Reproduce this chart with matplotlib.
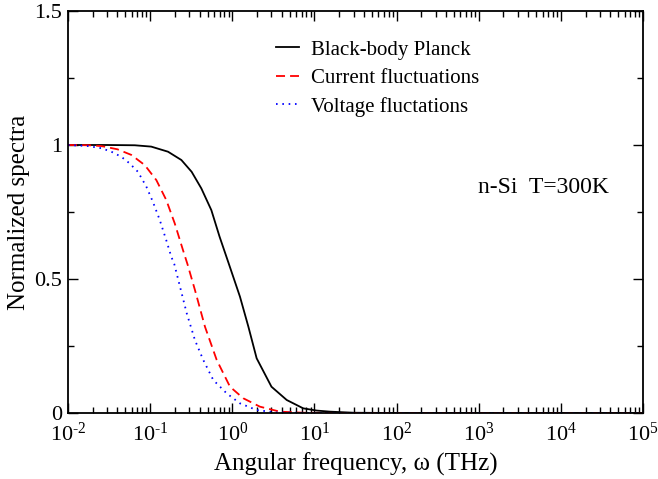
import numpy as np
import matplotlib
matplotlib.use("Agg")
import matplotlib.pyplot as plt
from matplotlib.ticker import FixedLocator, FixedFormatter, NullFormatter

plt.rcParams['font.family'] = ['Liberation Serif', 'DejaVu Serif']
plt.rcParams['mathtext.fontset'] = 'custom'
plt.rcParams['mathtext.rm'] = 'Liberation Serif'
plt.rcParams['mathtext.it'] = 'Liberation Serif:italic'

# Black-body Planck
w_bb = [0.01, 0.03, 0.065, 0.103, 0.165, 0.24, 0.32, 0.42, 0.556, 0.70, 0.90, 1.24, 1.57, 1.98,
        3.0, 4.6, 7.3, 10.7, 15.5, 30, 100, 1e3, 1e4, 1e5]
s_bb = [1.0, 1.0, 0.999, 0.994, 0.975, 0.944, 0.90, 0.838, 0.757, 0.658, 0.56, 0.434, 0.322, 0.204,
        0.098, 0.0485, 0.0174, 0.009, 0.005, 0.001, 0.0, 0.0, 0.0, 0.0]
# Current fluctuations
w_cur = [0.01, 0.018, 0.0255, 0.04, 0.059, 0.086, 0.119, 0.157, 0.199, 0.251, 0.285, 0.351, 0.465,
         0.646, 0.938, 1.36, 2.17, 3.8, 7.3, 20, 100, 1e3, 1e4, 1e5]
s_cur = [1.0, 0.999, 0.996, 0.984, 0.963, 0.925, 0.869, 0.795, 0.708, 0.608, 0.555, 0.459, 0.322,
         0.198, 0.098, 0.055, 0.0236, 0.005, 0.001, 0.0, 0.0, 0.0, 0.0, 0.0]
# Voltage fluctuations
w_vol = [0.01, 0.0175, 0.0255, 0.0337, 0.0446, 0.056, 0.071, 0.0898, 0.108, 0.131, 0.157, 0.181,
         0.197, 0.231, 0.279, 0.351, 0.443, 0.587, 0.853, 1.24, 1.98, 3.4, 10, 100, 1e3, 1e4, 1e5]
s_vol = [1.0, 0.996, 0.988, 0.975, 0.956, 0.932, 0.90, 0.845, 0.788, 0.72, 0.645, 0.583,
         0.555, 0.471, 0.372, 0.272, 0.198, 0.123, 0.0735, 0.036, 0.011, 0.002, 0.0, 0.0, 0.0, 0.0, 0.0]

labels = ["Black-body Planck", "Current fluctuations", "Voltage fluctations"]
x_exponents = [-2, -1, 0, 1, 2, 3, 4, 5]
y_ticks = [0, 0.5, 1, 1.5]
y_ticklabels = ["0", "0.5", "1", "1.5"]
annotation = "n-Si  T=300K"

fig = plt.figure(figsize=(6.58, 4.79), dpi=100)
ax = fig.add_axes([68/658, 66/479, 575/658, 402/479])

ax.plot(w_bb, s_bb, color='black', lw=1.3, label=labels[0])
ax.plot(w_cur, s_cur, color='red', lw=1.3, dashes=(5, 2.8), label=labels[1])
ax.plot(w_vol, s_vol, color='blue', lw=1.3, dashes=(0.9, 2.6), label=labels[2])

ax.set_xscale('log')
ax.set_xlim(1e-2, 1e5)
ax.set_ylim(0, 1.5)
x_major = [10.0 ** e for e in x_exponents]
x_minor = [m * 10.0 ** e for e in x_exponents[:-1] for m in range(2, 10)]
ax.xaxis.set_major_locator(FixedLocator(x_major))
ax.xaxis.set_major_formatter(FixedFormatter(
    [r"$\mathregular{10^{\text{%d}}}$" % e for e in x_exponents]))
ax.xaxis.set_minor_locator(FixedLocator(x_minor))
ax.xaxis.set_minor_formatter(NullFormatter())
ax.yaxis.set_major_locator(FixedLocator(y_ticks))
ax.yaxis.set_major_formatter(FixedFormatter(y_ticklabels))
ax.yaxis.set_minor_locator(FixedLocator([0.25, 0.75, 1.25]))

ax.tick_params(which='both', direction='in', top=True, right=True, labelsize=16, width=1)
ax.tick_params(which='major', length=7)
ax.tick_params(which='minor', length=4)
ax.tick_params(axis='x', which='major', pad=7)
ax.tick_params(axis='y', which='major', pad=4)
for s in ax.spines.values():
    s.set_linewidth(1.3)

ax.set_xlabel("Angular frequency, ω (THz)", fontsize=18, labelpad=5)
ax.set_ylabel("Normalized spectra", fontsize=18, labelpad=3)

leg = ax.legend(loc='upper left', bbox_to_anchor=(0.362, 0.928), frameon=False, fontsize=15,
                handlelength=1.1, handletextpad=0.57, labelspacing=0.42,
                borderpad=0, borderaxespad=0)

ax.text(0.713, 0.547, annotation, transform=ax.transAxes, fontsize=17, va='baseline')

fig.savefig("out.png", dpi=100)
